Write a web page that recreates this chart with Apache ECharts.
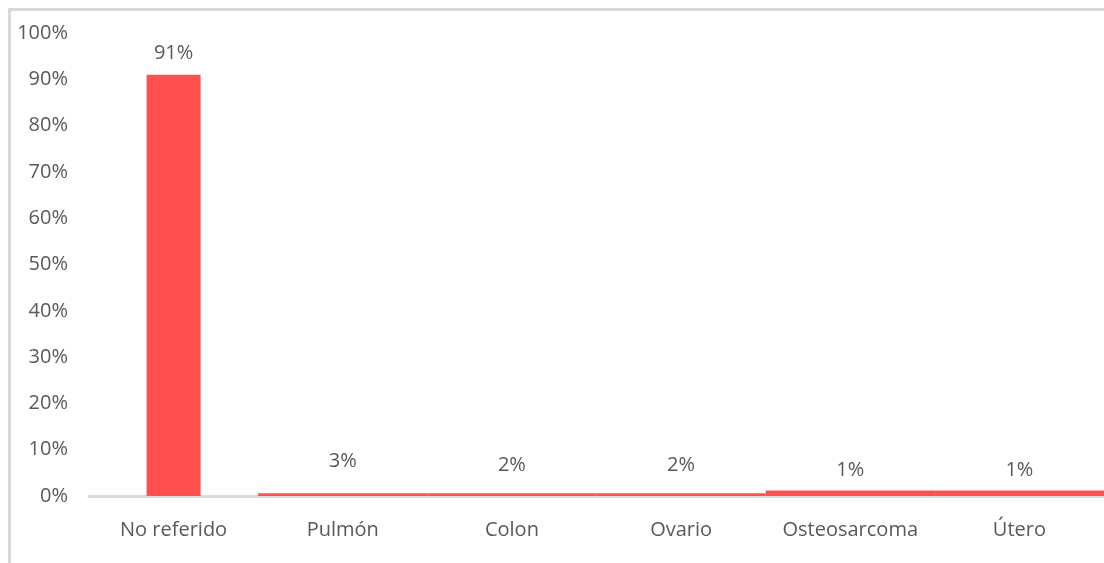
<!DOCTYPE html>
<html>
<head>
    <meta charset="utf-8">
    <title>Localización</title>
    <script src="https://cdn.jsdelivr.net/npm/echarts@6/dist/echarts.min.js"></script>
    <style>
        html, body { margin: 0; padding: 0; background: #fff; }
        #frame {
            position: absolute; left: 8px; top: 8px; width: 1110px; height: 570px;
            border-left: 3px solid #d9d9d9; border-top: 3px solid #d9d9d9;
        }
        #main { position: absolute; left: 0; top: 0; width: 1104px; height: 563px; }
    </style>
</head>
<body>
<div id="frame"></div>
<div id="main"></div>
<script type="text/javascript">
    // categorías y porcentajes
    var categorias = ['No referido', 'Pulmón', 'Colon', 'Ovario', 'Osteosarcoma', 'Útero'];
    var porcentajes = [91, 3, 2, 2, 1, 1];
    // franja delgada que se ve en la imagen bajo las barras pequeñas
    var franja = [0, 0.6, 0.6, 0.6, 1.2, 1.2];
    var ticks = [0, 10, 20, 30, 40, 50, 60, 70, 80, 90, 100];

    var rojo = '#FF5050';
    var texto = '#595959';
    var fuente = 'Open Sans';

    var myChart = echarts.init(document.getElementById('main'));
    var option = {
        animation: false,
        grid: { left: 89, top: 33, width: 1020, height: 463, containLabel: false },
        xAxis: [{
            type: 'category',
            data: categorias,
            axisLine: { show: true, lineStyle: { color: '#d9d9d9', width: 3 } },
            axisTick: { show: false },
            axisLabel: { color: texto, fontFamily: fuente, fontSize: 20, margin: 24, interval: 0 }
        }, {
            type: 'category',
            data: categorias,
            show: false
        }],
        yAxis: {
            type: 'value',
            min: ticks[0],
            max: ticks[ticks.length - 1],
            interval: 10,
            splitLine: { show: false },
            axisLine: { show: false },
            axisTick: { show: false },
            axisLabel: {
                color: texto, fontFamily: fuente, fontSize: 20, margin: 21,
                formatter: '{value}%'
            }
        },
        series: [{
            name: 'franja',
            type: 'bar',
            xAxisIndex: 1,
            barWidth: '100%',
            data: franja,
            itemStyle: { color: rojo },
            z: 3
        }, {
            name: 'Porcentaje',
            type: 'bar',
            barWidth: 54,
            data: porcentajes.map(function (v, i) {
                return { value: v, itemStyle: { color: i === 0 ? rojo : 'rgba(0,0,0,0)' } };
            }),
            label: {
                show: true,
                position: 'top',
                distance: 11,
                color: texto,
                fontFamily: fuente,
                fontSize: 20,
                formatter: '{c}%'
            },
            z: 2
        }]
    };
    myChart.setOption(option);
</script>
</body>
</html>
